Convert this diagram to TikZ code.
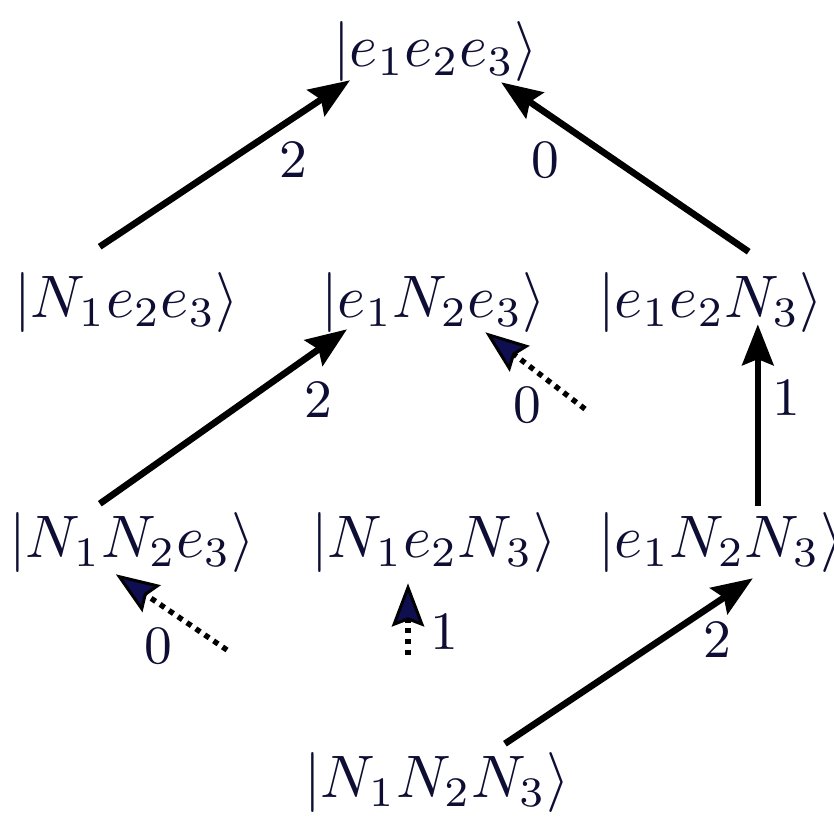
\documentclass[tikz,border=0pt]{standalone}
\usetikzlibrary{arrows.meta,calc}
\definecolor{ketnavy}{RGB}{14,14,52}
\definecolor{tipnavy}{RGB}{14,14,80}
\tikzset{every picture/.style={line width=1.1pt}}
\tikzset{
  ket/.style={anchor=base west, inner sep=0pt, text=ketnavy},
  weight/.style={inner sep=0pt, text=ketnavy, font=\small},
  hop/.style={-{Stealth[length=6.8pt,width=5.2pt,inset=1pt]}, line width=1.1pt},
  weakhop/.style={-{Stealth[length=7.2pt,width=5.4pt,inset=1pt,fill=tipnavy,line width=0.5pt]}, line width=0.9pt, dash pattern=on 0.9pt off 0.9pt},
}

\begin{document}
\begin{tikzpicture}[x=0.1667pt,y=0.1667pt,yscale=-1,xscale=1]
\useasboundingbox (0,0) rectangle (834,829); %set diagram size 834 x 829

% Text Node
\node[ket] (e1e2e3) at (330,67) {$|e_1e_2e_3\rangle$};
% Text Node
\node[ket] (n1e2e3) at (11,317) {$|N_1e_2e_3\rangle$};
% Text Node
\node[ket] (e1n2e3) at (318,317) {$|e_1N_2e_3\rangle$};
% Text Node
\node[ket] (e1e2n3) at (595,317) {$|e_1e_2N_3\rangle$};
% Text Node
\node[ket] (n1n2e3) at (6,557) {$|N_1N_2e_3\rangle$};
% Text Node
\node[ket] (n1e2n3) at (308,557) {$|N_1e_2N_3\rangle$};
% Text Node
\node[ket] (e1n2n3) at (595,557) {$|e_1N_2N_3\rangle$};
% Text Node
\node[ket] (n1n2n3) at (301,797) {$|N_1N_2N_3\rangle$};

% free ends of the dotted lines
\coordinate (t4) at (585,409);
\coordinate (t6) at (227,650);
\coordinate (t7) at (408,655);
% foot of the vertical line
\coordinate (t5) at ($(e1n2n3.north)+(37,-3)$);

%Straight Lines
\draw[hop] ($(n1e2e3.north)+(-27,-22)$) -- ($(e1e2e3.south west)+(20,-5)$);
%Straight Lines
\draw[hop] ($(e1e2n3.north)+(38,-17)$) -- ($(e1e2e3.south east)+(-40,-3)$);
%Straight Lines
\draw[hop] ($(n1n2e3.north)+(-32,-5)$) -- ($(e1n2e3.south west)+(29,-6)$);
%Straight Lines
\draw[hop] (t5) -- ($(t5 |- e1e2n3.south)+(0,-11)$);
%Straight Lines
\draw[hop] ($(n1n2n3.north)+(68,-5)$) -- ($(e1n2n3.south)+(32,3)$);

%Dotted Lines
\draw[weakhop] (t4) -- ($(e1n2e3.south east)+(-64,-3)$);
%Dotted Lines
\draw[weakhop] (t6) -- ($(n1n2e3.south)+(-16,-1)$);
%Dotted Lines
\draw[weakhop] (t7) -- ($(t7 |- n1e2n3.south)+(0,8)$);

% Text Node
\node[weight] (w1) at (293,160) {2};
% Text Node
\node[weight] (w2) at (545,160) {0};
% Text Node
\node[weight] (w3) at (318,400) {2};
% Text Node
\node[weight] (w4) at (527,405) {0};
% Text Node
\node[weight] (w5) at (786,398) {1};
% Text Node
\node[weight] (w6) at (158,646) {0};
% Text Node
\node[weight] (w7) at (444,632) {1};
% Text Node
\node[weight] (w8) at (717,640) {2};

\end{tikzpicture}
\end{document}
